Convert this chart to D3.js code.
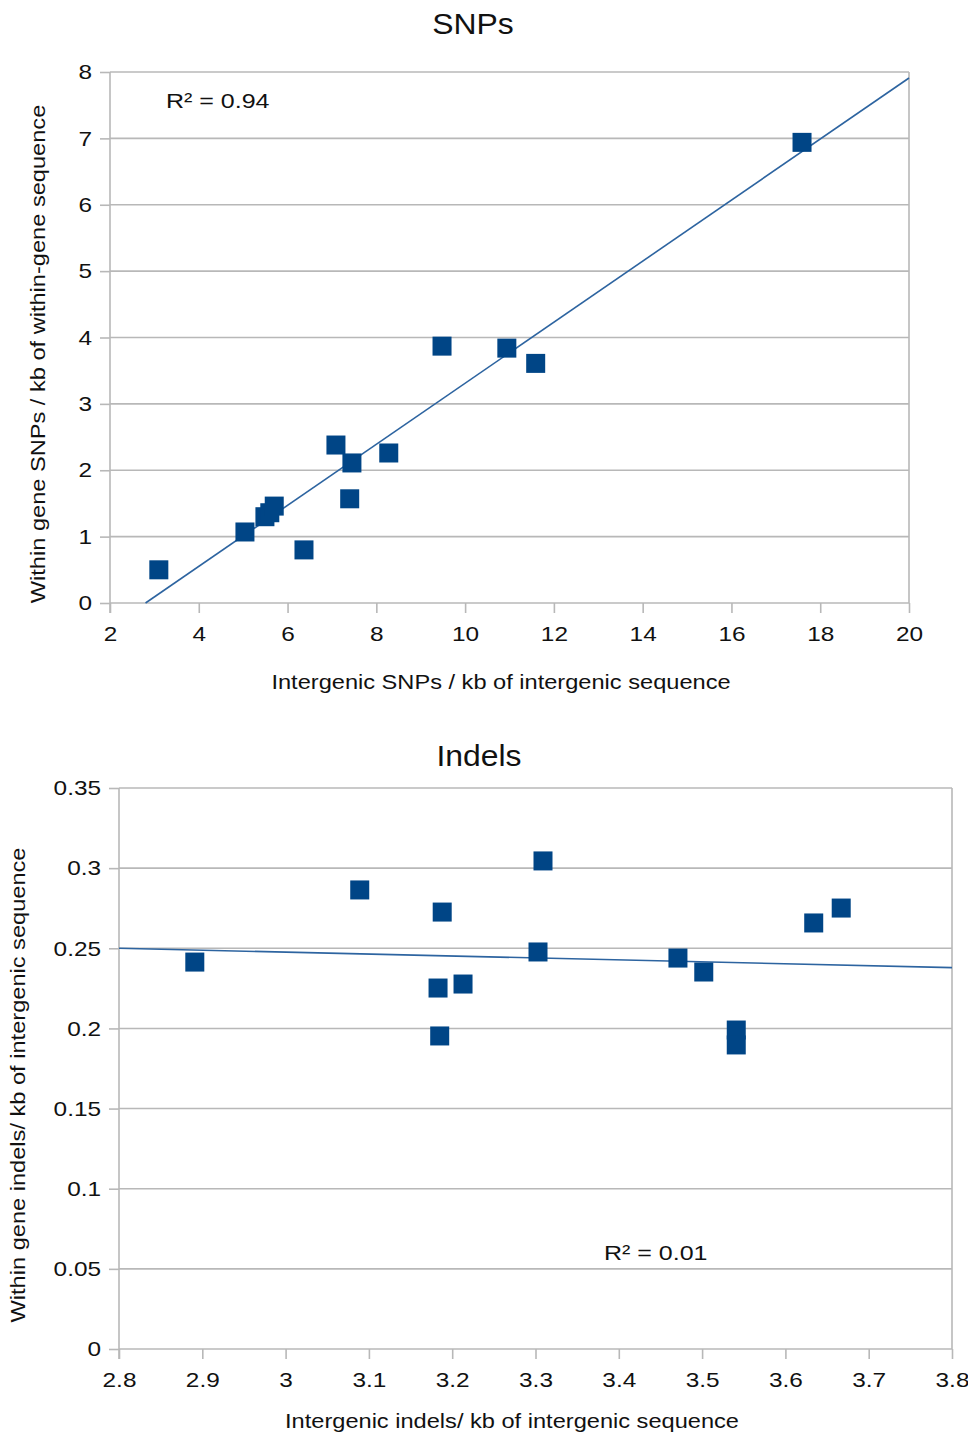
<!DOCTYPE html>
<html>
<head>
<meta charset="utf-8">
<script src="https://cdn.jsdelivr.net/npm/d3@7"></script>
<style>
  body { margin: 0; background: #fff; }
  svg { display: block; font-family: "Liberation Sans", Arial, sans-serif; }
</style>
</head>
<body>
<svg id="chart" width="968" height="1436"></svg>
<script>
// SNPs panel
var snpX = [3.10, 5.04, 5.49, 5.60, 5.70, 6.37, 7.09, 7.45, 7.40, 8.28, 9.48, 10.94, 11.59, 17.59];
var snpY = [0.50, 1.07, 1.30, 1.36, 1.46, 0.80, 2.38, 2.11, 1.57, 2.26, 3.87, 3.84, 3.61, 6.94];
var snpXTicks = [2, 4, 6, 8, 10, 12, 14, 16, 18, 20];
var snpYTicks = [0, 1, 2, 3, 4, 5, 6, 7, 8];

// Indels panel
var indelX = [2.891, 3.089, 3.188, 3.183, 3.213, 3.185, 3.309, 3.303, 3.471, 3.502, 3.541, 3.541, 3.634, 3.667];
var indelY = [0.2414, 0.2864, 0.2726, 0.2252, 0.2277, 0.1953, 0.3045, 0.2477, 0.2439, 0.2352, 0.1990, 0.1897, 0.2658, 0.2751];
var indelXTicks = [2.8, 2.9, 3, 3.1, 3.2, 3.3, 3.4, 3.5, 3.6, 3.7, 3.8];
var indelYTicks = [0, 0.05, 0.1, 0.15, 0.2, 0.25, 0.3, 0.35];

var blue = "#004586";
var grid = "#b8b8b8";

var svg = d3.select("#chart");

function fit(xs, ys) {
  var mx = d3.mean(xs), my = d3.mean(ys);
  var sxy = 0, sxx = 0;
  xs.forEach(function(x, i) { sxy += (x - mx) * (ys[i] - my); sxx += (x - mx) * (x - mx); });
  var b = sxy / sxx;
  return {slope: b, icpt: my - b * mx};
}

// the original text is a bit wider than Liberation Sans
function stretch(sel, k) {
  sel.each(function() {
    var w = this.getComputedTextLength();
    d3.select(this).attr("textLength", w * k).attr("lengthAdjust", "spacingAndGlyphs");
  });
}

function panel(opt) {
  var x = d3.scaleLinear().domain(opt.xdom).range([opt.left, opt.right]);
  var y = d3.scaleLinear().domain(opt.ydom).range([opt.bottom, opt.top]);
  var g = svg.append("g");

  // horizontal grid
  g.selectAll("line.h").data(opt.yticks).enter().append("line")
    .attr("x1", opt.left).attr("x2", opt.right)
    .attr("y1", function(d) { return y(d); }).attr("y2", function(d) { return y(d); })
    .attr("stroke", grid).attr("stroke-width", 1.6);
  // side borders
  g.append("line").attr("x1", opt.left).attr("x2", opt.left).attr("y1", opt.top).attr("y2", opt.bottom + 10)
    .attr("stroke", grid).attr("stroke-width", 1.6);
  g.append("line").attr("x1", opt.right).attr("x2", opt.right).attr("y1", opt.top).attr("y2", opt.bottom)
    .attr("stroke", grid).attr("stroke-width", 1.6);

  var xAxis = d3.axisBottom(x).tickValues(opt.xticks).tickSize(10).tickPadding(13).tickFormat(d3.format("~g"));
  var yAxis = d3.axisLeft(y).tickValues(opt.yticks).tickSize(10).tickPadding(8).tickFormat(d3.format("~g"));

  var ax = g.append("g").attr("transform", "translate(0," + opt.bottom + ")").call(xAxis);
  var ay = g.append("g").attr("transform", "translate(" + opt.left + ",0)").call(yAxis);
  [ax, ay].forEach(function(a) {
    a.select(".domain").remove();
    a.selectAll(".tick line").attr("stroke", grid).attr("stroke-width", 1.6);
    a.selectAll(".tick text").attr("fill", "#111").style("font-size", "21px").call(stretch, 1.16);
  });

  // trend line
  var f = fit(opt.xs, opt.ys);
  var x0 = opt.xdom[0], x1 = opt.xdom[1];
  var y0 = f.icpt + f.slope * x0;
  if (y0 < opt.ydom[0]) { x0 = (opt.ydom[0] - f.icpt) / f.slope; y0 = opt.ydom[0]; }
  var y1 = f.icpt + f.slope * x1;
  g.append("line")
    .attr("x1", x(x0)).attr("y1", y(y0)).attr("x2", x(x1)).attr("y2", y(y1))
    .attr("stroke", "#2d64a0").attr("stroke-width", 1.6);

  // points
  var s = 19;
  g.selectAll("rect.pt").data(opt.xs).enter().append("rect")
    .attr("x", function(d) { return x(d) - s / 2; })
    .attr("y", function(d, i) { return y(opt.ys[i]) - s / 2; })
    .attr("width", s).attr("height", s)
    .attr("fill", blue);

  // titles
  g.append("text").attr("x", opt.titleX).attr("y", opt.titleY).attr("text-anchor", "middle")
    .style("font-size", "29px").attr("fill", "#111").text(opt.title).call(stretch, 1.1);
  g.append("text").attr("x", opt.xlabX).attr("y", opt.xlabY).attr("text-anchor", "middle")
    .style("font-size", "20px").attr("fill", "#111").text(opt.xlabel).call(stretch, 1.18);
  g.append("text").attr("transform", "translate(" + opt.ylabX + "," + opt.ylabY + ") rotate(-90)")
    .attr("text-anchor", "middle").style("font-size", "20px").attr("fill", "#111").text(opt.ylabel)
    .call(stretch, 1.18);
  g.append("text").attr("x", opt.r2X).attr("y", opt.r2Y)
    .style("font-size", "21px").attr("fill", "#111").text(opt.r2).call(stretch, 1.19);
}

panel({
  xs: snpX, ys: snpY, xdom: [2, 20], ydom: [0, 8], xticks: snpXTicks, yticks: snpYTicks,
  left: 110, right: 909, top: 72, bottom: 603,
  title: "SNPs", titleX: 473, titleY: 34,
  xlabel: "Intergenic SNPs / kb of intergenic sequence", xlabX: 501, xlabY: 689,
  ylabel: "Within gene SNPs / kb of within-gene sequence", ylabX: 45, ylabY: 354,
  r2: "R² = 0.94", r2X: 166, r2Y: 108
});

panel({
  xs: indelX, ys: indelY, xdom: [2.8, 3.8], ydom: [0, 0.35], xticks: indelXTicks, yticks: indelYTicks,
  left: 119, right: 952, top: 788, bottom: 1349,
  title: "Indels", titleX: 479, titleY: 766,
  xlabel: "Intergenic indels/ kb of intergenic sequence", xlabX: 512, xlabY: 1428,
  ylabel: "Within gene indels/ kb of intergenic sequence", ylabX: 25, ylabY: 1085,
  r2: "R² = 0.01", r2X: 604, r2Y: 1260
});
</script>
</body>
</html>
